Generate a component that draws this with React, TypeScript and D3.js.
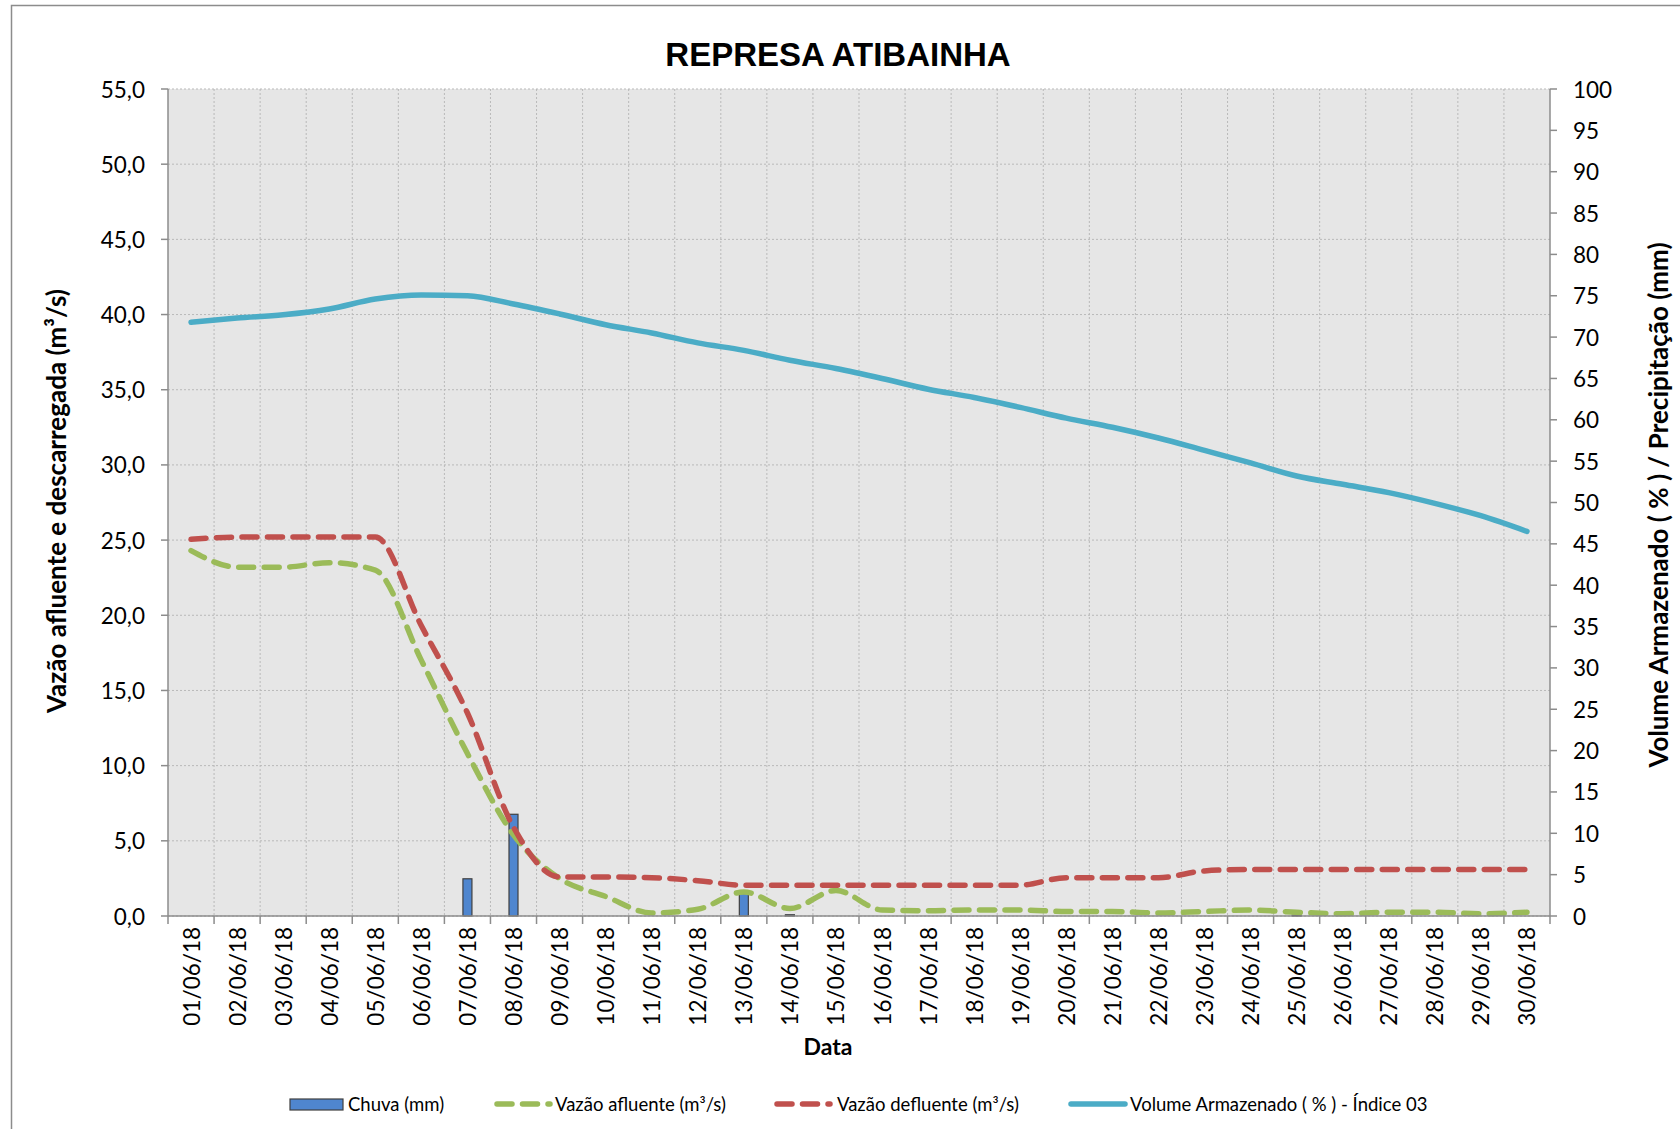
import * as d3 from 'd3';

const W = 1680;
const H = 1129;
const PLOT = { left: 168, right: 1550, top: 89, bottom: 916 };

const color = {
  plotBg: '#e6e6e6',
  grid: '#b9b9b9',
  axis: '#8c8c8c',
  text: '#000000',
  chuva: '#4f86cf',
  afluente: '#9bbb59',
  defluente: '#c0504d',
  volume: '#4bacc6',
};

const FONT = 'Lato, "Open Sans", sans-serif';

const days = [
  '01/06/18', '02/06/18', '03/06/18', '04/06/18', '05/06/18', '06/06/18', '07/06/18', '08/06/18', '09/06/18', '10/06/18',
  '11/06/18', '12/06/18', '13/06/18', '14/06/18', '15/06/18', '16/06/18', '17/06/18', '18/06/18', '19/06/18', '20/06/18',
  '21/06/18', '22/06/18', '23/06/18', '24/06/18', '25/06/18', '26/06/18', '27/06/18', '28/06/18', '29/06/18', '30/06/18',
];

// mm (right axis)
const chuva = [0, 0, 0, 0, 0, 0, 4.5, 12.3, 0, 0, 0, 0, 3.0, 0.15, 0, 0, 0, 0, 0, 0, 0, 0, 0, 0, 0.1, 0, 0, 0, 0, 0];

// m3/s (left axis)
const vazaoAfluente = [
  24.3, 23.2, 23.2, 23.5, 23.0, 17.0, 10.8, 5.4, 2.5, 1.3,
  0.2, 0.45, 1.6, 0.5, 1.7, 0.4, 0.35, 0.4, 0.4, 0.3,
  0.3, 0.2, 0.3, 0.4, 0.25, 0.15, 0.25, 0.25, 0.15, 0.25,
];
const vazaoDefluente = [
  25.05, 25.2, 25.2, 25.2, 25.2, 19.3, 13.5, 5.9, 2.6, 2.6,
  2.55, 2.35, 2.05, 2.05, 2.05, 2.05, 2.05, 2.05, 2.05, 2.55,
  2.55, 2.55, 3.0, 3.1, 3.1, 3.1, 3.1, 3.1, 3.1, 3.1,
];

// % (right axis)
const volume = [
  71.8, 72.3, 72.7, 73.4, 74.6, 75.1, 75.0, 74.0, 72.8, 71.5,
  70.5, 69.3, 68.4, 67.2, 66.2, 65.0, 63.7, 62.7, 61.5, 60.2,
  59.1, 57.8, 56.3, 54.8, 53.2, 52.2, 51.2, 49.9, 48.4, 46.5,
];

const leftTicks = d3.range(0, 56, 5);
const rightTicks = d3.range(0, 101, 5);

const fmtLeft = (v: number) => v.toFixed(1).replace('.', ',');

const App = () => {
  const x = d3.scaleBand<string>().domain(days).range([PLOT.left, PLOT.right]).padding(0);
  const yLeft = d3.scaleLinear().domain([0, 55]).range([PLOT.bottom, PLOT.top]);
  const yRight = d3.scaleLinear().domain([0, 100]).range([PLOT.bottom, PLOT.top]);
  const cx = (i: number) => (x(days[i]) as number) + x.bandwidth() / 2;

  const lineLeft = d3
    .line<number>()
    .curve(d3.curveMonotoneX)
    .x((_, i) => cx(i))
    .y(d => yLeft(d));
  const lineRight = d3
    .line<number>()
    .curve(d3.curveMonotoneX)
    .x((_, i) => cx(i))
    .y(d => yRight(d));

  const boundaries = d3.range(0, days.length + 1).map(i => PLOT.left + i * x.bandwidth());
  const barW = 9;
  const dash = '15,10.5';

  return (
    <svg width={W} height={H} style={{ position: 'absolute', left: 0, top: 0 }} fontFamily={FONT}>
      <rect x={0} y={0} width={W} height={H} fill="#ffffff" />
      <rect x={11.5} y={5.5} width={W} height={H} fill="none" stroke="#8c8c8c" strokeWidth={1.5} />

      <text x={838} y={66} textAnchor="middle" fontFamily='"Liberation Sans", Arial, sans-serif' fontWeight={700} fontSize={33}>
        REPRESA ATIBAINHA
      </text>

      {/* plot area */}
      <rect x={PLOT.left} y={PLOT.top} width={PLOT.right - PLOT.left} height={PLOT.bottom - PLOT.top} fill={color.plotBg} />
      {leftTicks.map(t => (
        <line key={'hg' + t} x1={PLOT.left} x2={PLOT.right} y1={yLeft(t)} y2={yLeft(t)} stroke={color.grid} strokeDasharray="2,2" />
      ))}
      {boundaries.slice(1, -1).map((bx, i) => (
        <line key={'vg' + i} x1={bx} x2={bx} y1={PLOT.top} y2={PLOT.bottom} stroke={color.grid} strokeDasharray="2,2" />
      ))}

      {/* bars */}
      {chuva.map((v, i) =>
        v > 0 ? (
          <rect
            key={'b' + i}
            x={cx(i) - barW / 2}
            y={yRight(v)}
            width={barW}
            height={yRight(0) - yRight(v)}
            fill={color.chuva}
            stroke="#404040"
            strokeWidth={1.2}
          />
        ) : null,
      )}

      {/* lines */}
      <path d={lineLeft(vazaoAfluente) || ''} fill="none" stroke={color.afluente} strokeWidth={5.5} strokeDasharray={dash} strokeLinecap="round" />
      <path d={lineLeft(vazaoDefluente) || ''} fill="none" stroke={color.defluente} strokeWidth={5.5} strokeDasharray={dash} strokeLinecap="round" />
      <path d={lineRight(volume) || ''} fill="none" stroke={color.volume} strokeWidth={5.5} strokeLinecap="round" strokeLinejoin="round" />

      {/* axes */}
      <line x1={PLOT.left} x2={PLOT.left} y1={PLOT.top} y2={PLOT.bottom} stroke={color.axis} strokeWidth={1.5} />
      <line x1={PLOT.right} x2={PLOT.right} y1={PLOT.top} y2={PLOT.bottom} stroke={color.axis} strokeWidth={1.5} />
      <line x1={PLOT.left} x2={PLOT.right} y1={PLOT.bottom} y2={PLOT.bottom} stroke={color.axis} strokeWidth={1.5} />

      {leftTicks.map(t => (
        <g key={'lt' + t}>
          <line x1={PLOT.left - 7} x2={PLOT.left} y1={yLeft(t)} y2={yLeft(t)} stroke={color.axis} strokeWidth={1.5} />
          <text x={145} y={yLeft(t)} textAnchor="end" dominantBaseline="central" fontSize={22.5}>
            {fmtLeft(t)}
          </text>
        </g>
      ))}
      {rightTicks.map(t => (
        <g key={'rt' + t}>
          <line x1={PLOT.right} x2={PLOT.right + 7} y1={yRight(t)} y2={yRight(t)} stroke={color.axis} strokeWidth={1.5} />
          <text x={1573} y={yRight(t)} textAnchor="start" dominantBaseline="central" fontSize={22.5}>
            {t}
          </text>
        </g>
      ))}
      {boundaries.map((bx, i) => (
        <line key={'xt' + i} x1={bx} x2={bx} y1={PLOT.bottom} y2={PLOT.bottom + 8} stroke={color.axis} strokeWidth={1.5} />
      ))}
      {days.map((d, i) => (
        <text
          key={'xl' + d}
          transform={`translate(${cx(i)},927) rotate(-90)`}
          textAnchor="end"
          dominantBaseline="central"
          fontSize={22.5}
        >
          {d}
        </text>
      ))}

      {/* axis titles */}
      <text transform="translate(56,501) rotate(-90)" textAnchor="middle" dominantBaseline="central" fontWeight={700} fontSize={26}>
        Vazão afluente e descarregada (m³/s)
      </text>
      <text transform="translate(1658,505) rotate(-90)" textAnchor="middle" dominantBaseline="central" fontWeight={700} fontSize={26}>
        Volume Armazenado ( % ) / Precipitação (mm)
      </text>
      <text x={828} y={1046} textAnchor="middle" dominantBaseline="central" fontWeight={700} fontSize={23}>
        Data
      </text>

      {/* legend */}
      <g fontSize={18.5}>
        <rect x={290} y={1099} width={53} height={11} fill={color.chuva} stroke="#404040" strokeWidth={1.2} />
        <text x={348} y={1104} dominantBaseline="central">Chuva (mm)</text>

        <line x1={497} x2={550} y1={1104} y2={1104} stroke={color.afluente} strokeWidth={5.5} strokeDasharray={dash} strokeLinecap="round" />
        <text x={555} y={1104} dominantBaseline="central">Vazão afluente (m³/s)</text>

        <line x1={777} x2={830} y1={1104} y2={1104} stroke={color.defluente} strokeWidth={5.5} strokeDasharray={dash} strokeLinecap="round" />
        <text x={837} y={1104} dominantBaseline="central">Vazão defluente (m³/s)</text>

        <line x1={1071} x2={1125} y1={1104} y2={1104} stroke={color.volume} strokeWidth={5.5} strokeLinecap="round" />
        <text x={1130} y={1104} dominantBaseline="central">Volume Armazenado ( % ) - Índice 03</text>
      </g>
    </svg>
  );
};

export default App;
